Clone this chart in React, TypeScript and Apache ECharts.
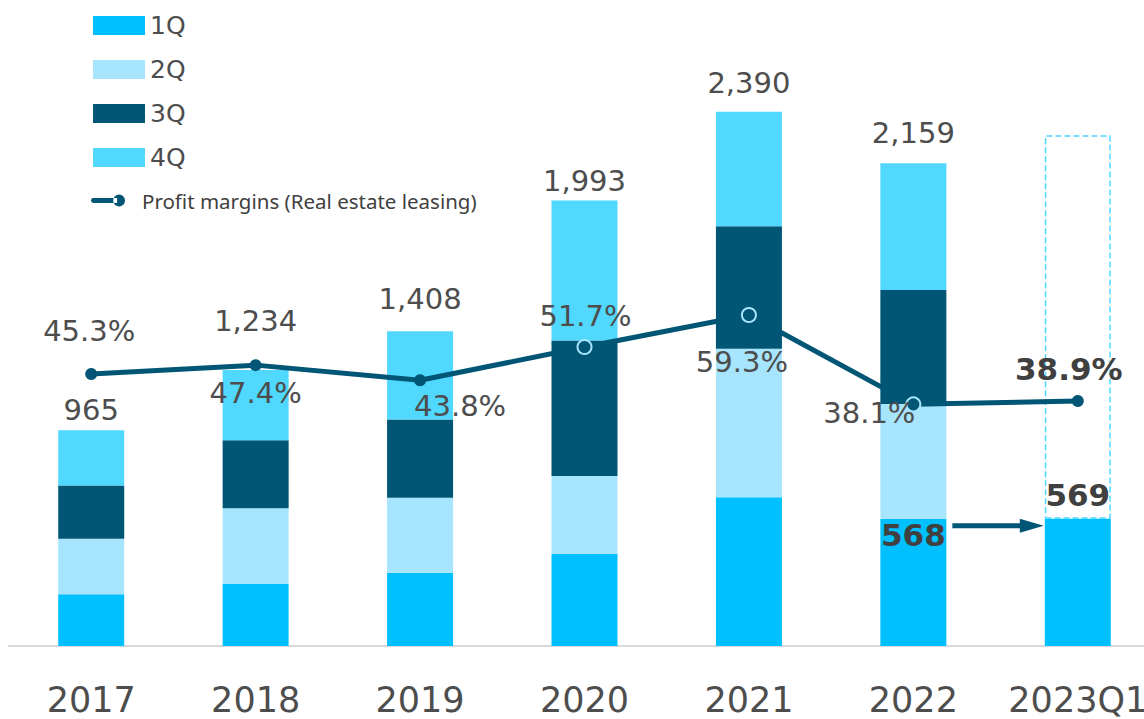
import React, { useEffect, useRef } from 'react';
import * as echarts from 'echarts';

const categories = ['2017', '2018', '2019', '2020', '2021', '2022', '2023Q1'];
const q1 = [231, 277, 328, 413, 665, 568, 569];
const q2 = [249, 339, 335, 347, 665, 514, null];
const q3 = [238, 304, 350, 607, 547, 510, null];
const q4 = [247, 314, 395, 626, 513, 567, null];
const totals = [965, 1234, 1408, 1993, 2390, 2159, null];
const outlineRest = [null, null, null, null, null, null, 1715];
const margins = [45.3, 47.4, 43.8, 51.7, 59.3, 38.1, 38.9];
const lineName = 'Profit margins (Real estate leasing)';

const C1 = '#00c0ff';
const C2 = '#a6e5fd';
const C3 = '#015575';
const C4 = '#50d8fe';
const LINE = '#015575';
const TXT = '#4d4d4d';
const FONT = 'DejaVu Sans';

const totalOffsets = [-5.5, -35, -17.5, -4.5, -14.5, -16, 0];
const marginOffsets = [[-2, -43], [0, 27.5], [40, 26], [1, -31], [-7, 47.5], [-44, 9], [-9, -32]];

const legendLineIcon = 'path://M2,4.5 L26,4.5 L26,9.5 L2,9.5 A2.5,2.5 0 0,1 2,4.5 Z M22,7 A6,6 0 1,0 34,7 A6,6 0 1,0 22,7 Z';

export default function App() {
  const ref = useRef<HTMLDivElement>(null);
  useEffect(() => {
    if (!ref.current) return;
    const chart = echarts.init(ref.current, null, { renderer: 'svg' });
    const BW = 66;
    const option: any = {
      animation: false,
      backgroundColor: '#ffffff',
      grid: { left: 9, top: 20, right: 10, height: 626, containLabel: false },
      legend: [
        {
          data: ['1Q', '2Q', '3Q', '4Q'],
          orient: 'vertical',
          left: 88,
          top: 8,
          itemWidth: 52,
          itemHeight: 19,
          itemGap: 19,
          icon: 'rect',
          selectedMode: false,
          textStyle: { fontSize: 25, color: TXT, fontFamily: FONT },
        },
        {
          data: [{ name: lineName, icon: legendLineIcon }],
          left: 86,
          top: 185,
          itemWidth: 34,
          itemHeight: 14,
          selectedMode: false,
          textStyle: { fontSize: 20.5, color: '#404040', fontFamily: 'Noto Sans', padding: [0, 0, 0, 12] },
        },
      ],
      xAxis: {
        type: 'category',
        data: categories,
        axisLine: { show: true, lineStyle: { color: '#d9d9d9', width: 2 } },
        axisTick: { show: false },
        axisLabel: { interval: 0, fontSize: 35, color: TXT, fontFamily: FONT, margin: 36 },
      },
      yAxis: [
        { type: 'value', min: 0, max: 2800, show: false, splitLine: { show: false } },
        { type: 'value', min: -19.25, max: 129.3, show: false, splitLine: { show: false } },
      ],
      series: [
        {
          name: '1Q', type: 'bar', stack: 'total', barWidth: BW, itemStyle: { color: C1 },
          data: q1.map((v, i) =>
            i === 5
              ? { value: v, label: { show: true, position: 'insideTop', distance: 0, fontSize: 31, fontWeight: 'bold', color: '#404040', fontFamily: FONT } }
              : i === 6
              ? { value: v, label: { show: true, position: 'top', distance: 8, fontSize: 31, fontWeight: 'bold', color: '#404040', fontFamily: FONT } }
              : v
          ),
        },
        { name: '2Q', type: 'bar', stack: 'total', barWidth: BW, itemStyle: { color: C2 }, data: q2 },
        { name: '3Q', type: 'bar', stack: 'total', barWidth: BW, itemStyle: { color: C3 }, data: q3 },
        {
          name: '4Q', type: 'bar', stack: 'total', barWidth: BW, itemStyle: { color: C4 },
          label: {
            show: true, position: 'top', distance: 0, fontSize: 29, color: TXT, fontFamily: FONT,
            formatter: (p: any) => (totals[p.dataIndex] == null ? '' : (totals[p.dataIndex] as number).toLocaleString('en-US')),
          },
          data: q4.map((v, i) => ({ value: v, label: { offset: [0, totalOffsets[i]] } })),
        },
        {
          name: 'Outline', type: 'bar', stack: 'total', barWidth: BW,
          itemStyle: { color: 'rgba(0,0,0,0)', borderColor: '#4dd8ff', borderType: 'dashed', borderWidth: 1.5 },
          data: outlineRest,
        },
        {
          name: lineName, type: 'line', yAxisIndex: 1, z: 5,
          symbol: 'circle', symbolSize: 12,
          lineStyle: { color: LINE, width: 5 },
          itemStyle: { color: LINE },
          label: {
            show: true, position: 'inside', fontSize: 29, color: TXT, fontFamily: FONT,
            formatter: (p: any) => (p.value as number).toFixed(1) + '%',
          },
          data: margins.map((v, i) => {
            const d: any = { value: v, label: { offset: marginOffsets[i] } };
            if (i >= 3 && i <= 5) {
              d.itemStyle = { color: LINE, borderColor: '#a6e5fd', borderWidth: 2 };
              d.symbolSize = 14;
            }
            if (i === 6) {
              d.label = { offset: marginOffsets[i], fontWeight: 'bold', fontSize: 31, color: '#404040' };
            }
            return d;
          }),
        },
      ],
    };
    chart.setOption(option);
    const a = chart.convertToPixel({ xAxisIndex: 0, yAxisIndex: 0 }, [categories[5], q1[5]]) as number[];
    const b = chart.convertToPixel({ xAxisIndex: 0, yAxisIndex: 0 }, [categories[6], q1[6]]) as number[];
    const x1 = a[0] + BW / 2 + 6;
    const x2 = b[0] - BW / 2 - 1;
    const y = b[1] + 7;
    chart.setOption({
      graphic: [
        { type: 'line', z: 10, shape: { x1, y1: y, x2: x2 - 20, y2: y }, style: { stroke: LINE, lineWidth: 5 } },
        { type: 'polygon', z: 10, shape: { points: [[x2 - 24, y - 7], [x2, y], [x2 - 24, y + 7]] }, style: { fill: LINE } },
      ],
    });
    return () => chart.dispose();
  }, []);
  return (
    <div style={{ position: 'absolute', left: 0, top: 0, width: 1144, height: 719, overflow: 'hidden', background: '#fff' }}>
      <div ref={ref} style={{ width: 1170, height: 719 }} />
    </div>
  );
}
